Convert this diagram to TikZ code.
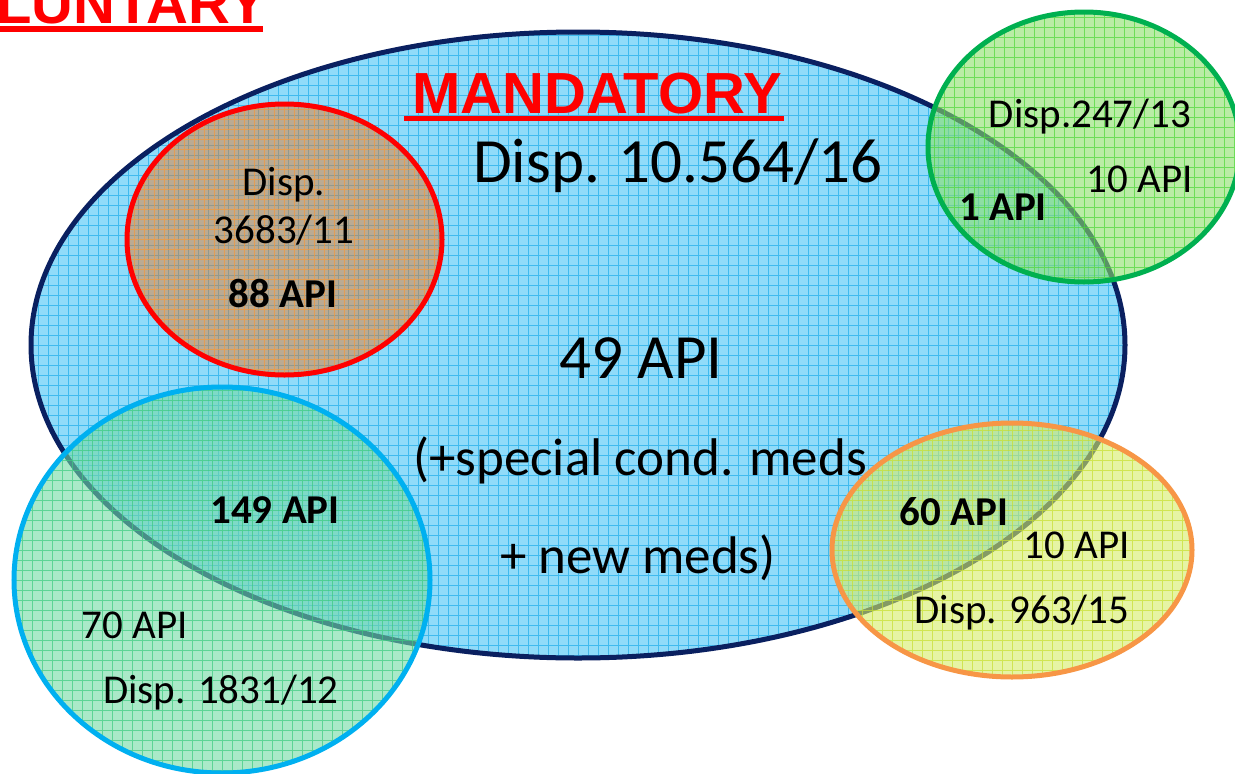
\documentclass[tikz,border=0pt]{standalone}
\usepackage{fontspec}
\setmainfont{Carlito}
\newfontfamily\titlefont{Liberation Sans}
\usetikzlibrary{shapes.geometric}
\definecolor{navy}{HTML}{0A2060}
\definecolor{bigblue}{HTML}{90DBF9}
\definecolor{biggrid}{HTML}{1FADEA}
\definecolor{redline}{HTML}{FF0000}
\definecolor{redfill}{HTML}{E67A2C}
\definecolor{redgrid}{HTML}{F39A3C}
\definecolor{greenline}{HTML}{00B050}
\definecolor{greenfill}{HTML}{8CE06A}
\definecolor{greengrid}{HTML}{4CD83A}
\definecolor{cyanline}{HTML}{00B0F0}
\definecolor{cyanfill}{HTML}{72DAA4}
\definecolor{cyangrid}{HTML}{3CCB80}
\definecolor{orangeline}{HTML}{F79646}
\definecolor{orangefill}{HTML}{D6EC68}
\definecolor{orangegrid}{HTML}{C8E030}
\tikzset{
  setblob/.style 2 args={ellipse, inner sep=0pt, outer sep=0pt,
    minimum width=#1, minimum height=#2},
  gridfill/.style={path picture={
      \draw[#1, line width=0.6pt, draw opacity=0.7, step=10pt]
        (path picture bounding box.south west) grid (path picture bounding box.north east);}},
  bigtxt/.style={inner sep=0pt, anchor=base, font=\fontsize{63}{63}\selectfont},
  midtxt/.style={inner sep=0pt, anchor=base, font=\fontsize{53}{53}\selectfont},
  smalltxt/.style={inner sep=0pt, anchor=base, font=\fontsize{41}{41}\selectfont},
  boldtxt/.style={inner sep=0pt, anchor=base, font=\fontsize{41}{41}\selectfont\bfseries},
  titletxt/.style={inner sep=0pt, text=redline, font=\titlefont\bfseries\fontsize{58}{58}\selectfont},
  uline/.style={draw=redline, line width=5.5pt}
}
\begin{document}
\begin{tikzpicture}[x=1pt,y=-1pt]
\useasboundingbox (0,0) rectangle (1235,774);
% big ellipse
\node[setblob={1094pt}{626pt}, fill=bigblue, gridfill=biggrid, draw=navy, line width=5pt] (mand) at (578,345) {};
% red circle
\node[setblob={315pt}{271pt}, fill=redfill, fill opacity=0.5, gridfill=redgrid, draw=redline, draw opacity=1, line width=5pt] (c3683) at (284.5,239.5) {};
% green circle
\node[setblob={312pt}{270pt}, fill=greenfill, fill opacity=0.6, gridfill=greengrid, draw=greenline, draw opacity=1, line width=5pt] (c247) at (1084,147) {};
% cyan circle
\node[setblob={416pt}{386pt}, fill=cyanfill, fill opacity=0.6, gridfill=cyangrid, draw=cyanline, draw opacity=1, line width=5pt] (c1831) at (222,580) {};
% orange circle
\node[setblob={360pt}{254pt}, fill=orangefill, fill opacity=0.6, gridfill=orangegrid, draw=orangeline, draw opacity=1, line width=5pt] (c963) at (1012,550) {};

% titles
\node[titletxt, anchor=base west] (vtitle) at (-4,23) {LUNTARY};
\draw[uline] ([yshift=-6pt]vtitle.base west) -- ([xshift=-4pt,yshift=-6pt]vtitle.base east);
\node[titletxt, anchor=base] (mtitle) at (597,113) {MANDATORY};
\draw[uline] ([xshift=-8pt,yshift=-5.5pt]mtitle.base west) -- ([xshift=2pt,yshift=-5.5pt]mtitle.base east);

% texts in big ellipse
\node[bigtxt] (t10564) at (678,182) {Disp. 10.564/16};
\node[bigtxt] (t49) at (641,378) {49 API};
\node[midtxt] (tspec) at (640,475) {(+special cond. meds};
\node[midtxt] (tnew) at (638,573) {+ new meds)};

% red circle texts
\node[smalltxt] (tdisp) at (284,195) {Disp.};
\node[smalltxt] (t3683) at (284,243) {3683/11};
\node[boldtxt] (t88) at (283,307) {88 API};

% green circle texts
\node[smalltxt] (t247) at (1090,127) {Disp.247/13};
\node[smalltxt] (t10g) at (1140,192) {10 API};
\node[boldtxt] (t1) at (1003,220) {1 API};

% cyan circle texts
\node[boldtxt] (t149) at (275,523) {149 API};
\node[smalltxt] (t70) at (135,638) {70 API};
\node[smalltxt] (t1831) at (221,703) {Disp. 1831/12};

% orange circle texts
\node[boldtxt] (t60) at (954,525) {60 API};
\node[smalltxt] (t10o) at (1077,558) {10 API};
\node[smalltxt] (t963) at (1022,623) {Disp. 963/15};
\end{tikzpicture}
\end{document}
